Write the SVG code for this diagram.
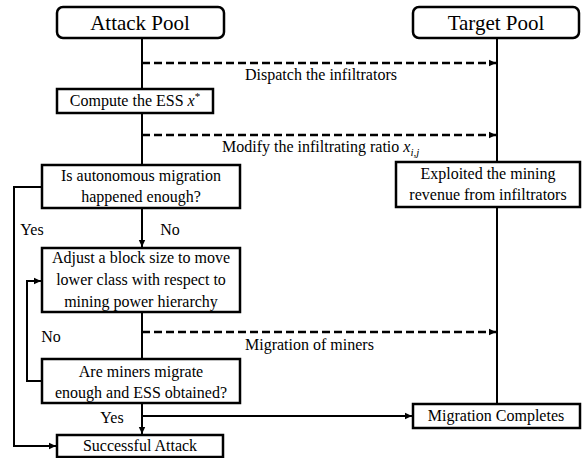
<svg xmlns="http://www.w3.org/2000/svg" width="582" height="458" viewBox="0 0 582 458" font-family="'Liberation Serif', 'Times New Roman', serif">
<style>
text{font-family:"Liberation Serif","Times New Roman",serif;fill:#000;}
.t{font-size:16px;text-anchor:middle;}
.l{font-size:16px;}
.h{font-size:21px;text-anchor:middle;}
.box{fill:#fff;stroke:#000;stroke-width:2.5;}
.ln{fill:none;stroke:#000;stroke-width:2;}
.ds{fill:none;stroke:#000;stroke-width:2.5;stroke-dasharray:8,4;}
</style>
<defs>
<marker id="ah" markerWidth="8" markerHeight="8" refX="7" refY="4" orient="auto" markerUnits="userSpaceOnUse">
<path d="M0,0.8 L7,4 L0,7.2 Z" fill="#000"/>
</marker>
</defs>
<g id="connectors">
<line class="ln" x1="142" y1="38" x2="142" y2="89"/>
<line class="ln" x1="142" y1="113" x2="142" y2="165"/>
<line class="ln" x1="142" y1="208" x2="142" y2="247" marker-end="url(#ah)"/>
<line class="ln" x1="142" y1="312" x2="142" y2="359"/>
<line class="ln" x1="142" y1="403" x2="142" y2="434" marker-end="url(#ah)"/>
<line class="ln" x1="142" y1="416" x2="412" y2="416" marker-end="url(#ah)"/>
<line class="ln" x1="497" y1="38" x2="497" y2="162"/>
<line class="ln" x1="497" y1="207" x2="497" y2="404"/>
<line class="ds" x1="142" y1="63" x2="496" y2="63" marker-end="url(#ah)"/>
<line class="ds" x1="142" y1="135" x2="496" y2="135" marker-end="url(#ah)"/>
<line class="ds" x1="142" y1="332" x2="496" y2="332" marker-end="url(#ah)"/>
<polyline class="ln" points="42,187 14,187 14,446 56,446" marker-end="url(#ah)"/>
<polyline class="ln" points="42,381 27,381 27,281 41,281" marker-end="url(#ah)"/>
<text class="l" x="245" y="80">Dispatch the infiltrators</text>
<text class="l" x="222" y="152">Modify the infiltrating ratio <tspan font-style="italic">x</tspan><tspan font-style="italic" font-size="11" dy="4">i,j</tspan></text>
<text class="l" x="245" y="350">Migration of miners</text>
<text class="t" x="32" y="235">Yes</text>
<text class="t" x="170" y="235">No</text>
<text class="t" x="51" y="342">No</text>
<text class="t" x="112" y="423">Yes</text>
</g>
<g id="attack-pool">
<rect class="box" x="57" y="7" width="167" height="31" rx="6"/>
<text class="h" x="140" y="30">Attack Pool</text>
</g>
<g id="target-pool">
<rect class="box" x="413" y="7" width="166" height="31" rx="6"/>
<text class="h" x="496" y="30">Target Pool</text>
</g>
<g id="compute-ess">
<rect class="box" x="57" y="89" width="156" height="24"/>
<text class="t" x="135" y="106">Compute the ESS <tspan font-style="italic">x</tspan><tspan font-size="11" dy="-6">*</tspan></text>
</g>
<g id="autonomous">
<rect class="box" x="42" y="165" width="198" height="43"/>
<text class="t" x="141" y="181">Is autonomous migration</text>
<text class="t" x="141" y="202">happened enough?</text>
</g>
<g id="exploited">
<rect class="box" x="396" y="162" width="184" height="45"/>
<text class="t" x="488" y="179">Exploited the mining</text>
<text class="t" x="488" y="200">revenue from infiltrators</text>
</g>
<g id="adjust">
<rect class="box" x="42" y="248" width="198" height="64"/>
<text class="t" x="141" y="263">Adjust a block size to move</text>
<text class="t" x="141" y="285">lower class with respect to</text>
<text class="t" x="141" y="307">mining power hierarchy</text>
</g>
<g id="are-miners">
<rect class="box" x="42" y="359" width="198" height="44"/>
<text class="t" x="141" y="377">Are miners migrate</text>
<text class="t" x="141" y="398">enough and ESS obtained?</text>
</g>
<g id="successful">
<rect class="box" x="57" y="435" width="166" height="22"/>
<text class="t" x="140" y="451">Successful Attack</text>
</g>
<g id="migration-completes">
<rect class="box" x="413" y="404" width="167" height="24"/>
<text class="t" x="496" y="421">Migration Completes</text>
</g>
</svg>
